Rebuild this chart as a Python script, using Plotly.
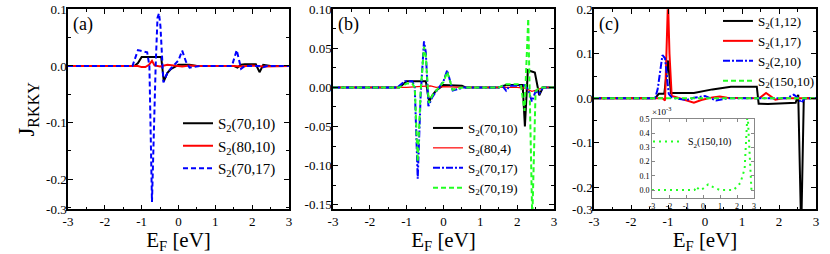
import plotly.graph_objects as go

# ---------------- data ----------------
# panel (a)
a1_x = [-3, -1.2, -1.1, -1.0, -0.5, -0.47, -0.4, -0.3, -0.2, -0.1, 0.0, 0.3, 0.5, 1.5, 1.6, 1.7, 1.8, 2.1, 2.2, 2.3, 2.5, 3]
a1_y = [0, 0, 0.005, 0.016, 0.016, 0.016, -0.027, -0.012, -0.005, -0.002, 0.002, 0.002, 0, 0, -0.003, 0.002, 0.003, 0.003, -0.011, 0.002, 0, 0]
a2_x = [-3, -1.1, -1.0, -0.9, -0.8, -0.72, -0.65, -0.5, -0.3, -0.1, 0.1, 0.3, 0.5, 1.5, 1.7, 2.0, 2.3, 3]
a2_y = [0, 0, -0.002, -0.002, 0.002, 0.009, 0.001, -0.001, 0.002, 0.001, -0.001, 0.001, 0, 0, -0.001, 0.001, -0.001, 0]
a3_x = [-3, -1.25, -1.1, -0.95, -0.85, -0.79, -0.72, -0.62, -0.57, -0.53, -0.49, -0.41, -0.3, -0.2, -0.1, 0.0, 0.1, 0.2, 0.3, 0.45, 0.6, 1.45, 1.58, 1.7, 1.8, 2.2, 2.3, 2.4, 3]
a3_y = [0, 0, 0.028, 0.025, 0.024, 0.0, -0.24, 0.0, 0.085, 0.093, 0.07, -0.029, -0.012, -0.004, 0.004, 0.01, 0.027, 0.008, -0.003, -0.002, 0, 0, 0.028, -0.005, 0, 0, -0.002, 0, 0]

# panel (b)
b1_x = [-3, -1.2, -1.0, -0.48, -0.39, -0.3, -0.2, 0.0, 0.5, 0.6, 1.5, 1.7, 2.15, 2.21, 2.29, 2.48, 2.6, 2.7, 3]
b1_y = [0, 0, 0.008, 0.008, -0.018, -0.01, -0.004, 0.003, 0.002, 0, 0, 0.003, 0.003, -0.05, 0.022, 0.019, -0.01, 0, 0]
b2_x = [-3, -1.0, -0.7, -0.5, -0.35, -0.2, 0, 0.5, 2.0, 2.2, 2.4, 2.55, 2.7, 3]
b2_y = [0, 0, 0.001, 0.002, 0.002, 0.0, 0.001, 0, 0, -0.001, -0.005, -0.003, 0, 0]
b3_x = [-3, -1.25, -1.05, -0.85, -0.78, -0.7, -0.62, -0.53, -0.48, -0.41, -0.3, -0.2, -0.1, 0.0, 0.1, 0.18, 0.25, 0.4, 0.55, 1.5, 1.6, 1.7, 1.8, 2.1, 2.2, 2.3, 2.4, 2.5, 2.6, 2.7, 3]
b3_y = [0, 0, 0.008, 0.008, 0.0, -0.117, -0.01, 0.059, 0.045, -0.024, -0.012, -0.005, 0.002, 0.008, 0.022, 0.008, -0.004, -0.002, 0, 0, 0.002, -0.004, 0.002, 0.002, 0.003, -0.003, -0.018, -0.005, -0.008, 0, 0]
b4_x = [-3, -1.2, -1.0, -0.85, -0.78, -0.7, -0.62, -0.53, -0.48, -0.4, -0.3, -0.2, -0.1, 0.0, 0.1, 0.18, 0.25, 0.4, 0.55, 1.5, 1.7, 2.1, 2.2, 2.3, 2.41, 2.5, 2.6, 2.7, 3]
b4_y = [0, 0, 0.005, 0.005, 0.0, -0.095, -0.005, 0.052, 0.04, -0.02, -0.01, -0.004, 0.002, 0.007, 0.02, 0.006, -0.003, -0.001, 0, 0, 0.004, 0.004, -0.03, 0.088, -0.17, -0.005, 0.0, 0, 0]

# panel (c)
c1_x = [-3, -1.35, -1.25, -1.1, -1.0, -0.92, -0.85, -0.3, 0.2, 0.7, 1.4, 1.45, 1.5, 1.7, 2.45, 2.52, 2.6, 2.67, 3]
c1_y = [0, 0, 0.01, 0.01, 0.085, 0.012, 0.012, 0.012, 0.02, 0.026, 0.026, -0.012, -0.012, -0.013, -0.01, 0.008, -0.3, 0, 0]
c2_x = [-3, -1.15, -1.08, -1.04, -1.0, -0.96, -0.9, -0.8, -0.5, -0.3, -0.1, 0.2, 0.4, 0.6, 1.4, 1.5, 1.65, 1.8, 1.9, 2.1, 3]
c2_y = [0, 0, -0.005, 0.1, 0.22, 0.1, 0.005, 0.003, -0.005, -0.01, -0.004, 0.002, 0.004, 0.001, 0, 0.002, 0.012, 0.002, -0.003, 0, 0]
c3_x = [-3, -1.35, -1.28, -1.15, -1.08, -0.98, -0.9, -0.8, -0.5, -0.3, 0.0, 0.3, 0.6, 2.2, 2.3, 2.4, 2.5, 2.6, 2.7, 3]
c3_y = [0, 0, 0.02, 0.097, 0.09, 0.01, 0.002, 0, -0.004, 0.001, 0.005, -0.005, 0, 0, 0.004, 0.008, 0.002, -0.01, 0, 0]
# S2(150,10), in units of 1e-3 (inset)
c4_x = [-3, -0.5, -0.4, -0.2, 0.0, 0.3, 0.6, 1.0, 1.8, 2.2, 2.45, 2.62, 2.85, 3]
c4_y_milli = [0, 0, 0.025, 0.0, 0.01, 0.04, 0.02, 0.0, 0.0, 0.05, 0.15, 0.55, 0.0, 0]

# ticks
x_tickvals = [-3, -2, -1, 0, 1, 2, 3]
x_ticktext = ["-3", "-2", "-1", "0", "1", "2", "3"]
a_tickvals = [0.1, 0.0, -0.1, -0.2, -0.2525]
a_ticktext = ["0.1", "0.0", "-0.1", "-0.2", "-0.3"]
b_tickvals = [0.10, 0.05, 0.0, -0.05, -0.10, -0.15]
b_ticktext = ["0.10", "0.05", "0.00", "-0.05", "-0.10", "-0.15"]
c_tickvals = [0.2, 0.1, 0.0, -0.1, -0.2, -0.249]
c_ticktext = ["0.2", "0.1", "0.0", "-0.1", "-0.2", "-0.3"]
i_tickvals = [0.0, 0.1, 0.2, 0.3, 0.4, 0.5]
i_ticktext = ["0.0", "0.1", "0.2", "0.3", "0.4", "0.5"]

labels_a = ["S<sub>2</sub>(70,10)", "S<sub>2</sub>(80,10)", "S<sub>2</sub>(70,17)"]
labels_b = ["S<sub>2</sub>(70,10)", "S<sub>2</sub>(80,4)", "S<sub>2</sub>(70,17)", "S<sub>2</sub>(70,19)"]
labels_c = ["S<sub>2</sub>(1,12)", "S<sub>2</sub>(1,17)", "S<sub>2</sub>(2,10)", "S<sub>2</sub>(150,10)"]

# ---------------- figure ----------------
FONT = "Liberation Serif"
BLACK, RED, BLUE, GREEN = "#000000", "#ff0000", "#0000ff", "#22ff22"
W, H = 830, 254

fig = go.Figure()

def add(x, y, name, color, width, dash, xa, ya, legend):
    fig.add_trace(go.Scatter(x=x, y=y, name=name, mode="lines",
                             line=dict(color=color, width=width, dash=dash),
                             xaxis=xa, yaxis=ya, legend=legend))

add(a1_x, a1_y, labels_a[0], BLACK, 2, "solid", "x", "y", "legend")
add(a2_x, a2_y, labels_a[1], RED, 2, "solid", "x", "y", "legend")
add(a3_x, a3_y, labels_a[2], BLUE, 2, "5px,3px", "x", "y", "legend")

add(b1_x, b1_y, labels_b[0], BLACK, 2, "solid", "x2", "y2", "legend2")
add(b2_x, b2_y, labels_b[1], RED, 1.2, "solid", "x2", "y2", "legend2")
add(b3_x, b3_y, labels_b[2], BLUE, 2, "7px,2px,2px,2px", "x2", "y2", "legend2")
add(b4_x, b4_y, labels_b[3], GREEN, 2, "5px,3px", "x2", "y2", "legend2")

add(c1_x, c1_y, labels_c[0], BLACK, 2, "solid", "x3", "y3", "legend3")
add(c2_x, c2_y, labels_c[1], RED, 2, "solid", "x3", "y3", "legend3")
add(c3_x, c3_y, labels_c[2], BLUE, 2, "7px,2px,2px,2px", "x3", "y3", "legend3")
add(c4_x, [v * 1e-3 for v in c4_y_milli], labels_c[3], GREEN, 2, "5px,3px", "x3", "y3", "legend3")

add(c4_x, c4_y_milli, labels_c[3], GREEN, 2, "2px,4px", "x4", "y4", "legend4")

def px_x(p):
    return p / W

def px_y(p):
    return 1 - p / H

ydom = [px_y(209.3), px_y(9.3)]
common_axis = dict(showline=True, linecolor="black", linewidth=1.5, mirror="ticks",
                   ticks="inside", ticklen=5, tickwidth=1.2, tickcolor="black",
                   showgrid=False, zeroline=False, automargin=False,
                   tickfont=dict(family=FONT, size=13, color="black"))
xtitle = dict(text="E<sub>F</sub> [eV]", font=dict(family=FONT, size=21, color="black"), standoff=1)

def xaxis(domain, anchor):
    return dict(common_axis, domain=domain, anchor=anchor, range=[-3, 3],
                tickmode="array", tickvals=x_tickvals, ticktext=x_ticktext, ticklabelstandoff=-1,
                minor=dict(ticks="inside", ticklen=3, tickwidth=1.2, tickcolor="black", dtick=0.5, tick0=0),
                title=xtitle)

yminor = dict(ticks="inside", ticklen=3, tickwidth=1.2, tickcolor="black", tick0=0)

fig.update_layout(
    xaxis=xaxis([px_x(68), px_x(289)], "y"),
    xaxis2=xaxis([px_x(333), px_x(554)], "y2"),
    xaxis3=xaxis([px_x(594), px_x(816)], "y3"),
    yaxis=dict(common_axis, domain=ydom, anchor="x", range=[-0.253, 0.1],
               tickmode="array", tickvals=a_tickvals, ticktext=a_ticktext, ticklabelstandoff=-3,
               minor=dict(yminor, dtick=0.05),
               title=dict(text="J<sub>RKKY</sub>", font=dict(family=FONT, size=23, color="black"), standoff=5)),
    yaxis2=dict(common_axis, domain=ydom, anchor="x2", range=[-0.156, 0.1],
                tickmode="array", tickvals=b_tickvals, ticktext=b_ticktext, ticklabelstandoff=-3,
                minor=dict(yminor, dtick=0.025)),
    yaxis3=dict(common_axis, domain=ydom, anchor="x3", range=[-0.2495, 0.2],
                tickmode="array", tickvals=c_tickvals, ticktext=c_ticktext, ticklabelstandoff=-3,
                minor=dict(yminor, dtick=0.05)),
    xaxis4=dict(domain=[px_x(652), px_x(754)], anchor="y4", range=[-3, 3],
                showline=True, linecolor="#888888", linewidth=1, mirror="ticks",
                ticks="inside", ticklen=3, tickcolor="#888888", showgrid=False, zeroline=False,
                automargin=False, tickmode="array", tickvals=x_tickvals, ticktext=x_ticktext,
                tickfont=dict(family=FONT, size=8, color="black")),
    yaxis4=dict(domain=[px_y(198.3), px_y(119)], anchor="x4", range=[-0.058, 0.5],
                showline=True, linecolor="#888888", linewidth=1, mirror="ticks",
                ticks="inside", ticklen=3, tickcolor="#888888", showgrid=False, zeroline=False,
                automargin=False, tickmode="array", tickvals=i_tickvals, ticktext=i_ticktext,
                tickfont=dict(family=FONT, size=8, color="black")),
    width=W, height=H,
    margin=dict(l=0, r=0, t=0, b=0, autoexpand=False),
    paper_bgcolor="white", plot_bgcolor="white",
    font=dict(family=FONT, color="black"),
    legend=dict(x=px_x(178), y=px_y(107), xanchor="left", yanchor="top",
                bgcolor="rgba(0,0,0,0)", font=dict(family=FONT, size=15), tracegroupgap=0),
    legend2=dict(x=px_x(428), y=px_y(113), xanchor="left", yanchor="top",
                 bgcolor="rgba(0,0,0,0)", font=dict(family=FONT, size=13), tracegroupgap=0),
    legend3=dict(x=px_x(718), y=px_y(6), xanchor="left", yanchor="top",
                 bgcolor="rgba(0,0,0,0)", font=dict(family=FONT, size=13), tracegroupgap=0),
    legend4=dict(x=px_x(648), y=px_y(127), xanchor="left", yanchor="top",
                 bgcolor="rgba(0,0,0,0)", font=dict(family=FONT, size=10), tracegroupgap=0),
    annotations=[
        dict(text="(a)", xref="x domain", yref="y domain", x=0.013, y=0.925, xanchor="left", yanchor="middle",
             showarrow=False, font=dict(family=FONT, size=18, color="black")),
        dict(text="(b)", xref="x2 domain", yref="y2 domain", x=0.013, y=0.925, xanchor="left", yanchor="middle",
             showarrow=False, font=dict(family=FONT, size=18, color="black")),
        dict(text="(c)", xref="x3 domain", yref="y3 domain", x=0.012, y=0.925, xanchor="left", yanchor="middle",
             showarrow=False, font=dict(family=FONT, size=18, color="black")),
        dict(text="\u00d710<sup>-3</sup>", xref="x4 domain", yref="y4 domain", x=-0.02, y=1.0,
             xanchor="left", yanchor="bottom", showarrow=False, font=dict(family=FONT, size=9, color="black")),
    ],
)

fig.write_html("out.html", config={"displayModeBar": False},
               post_script="document.body.style.margin='0px';")
